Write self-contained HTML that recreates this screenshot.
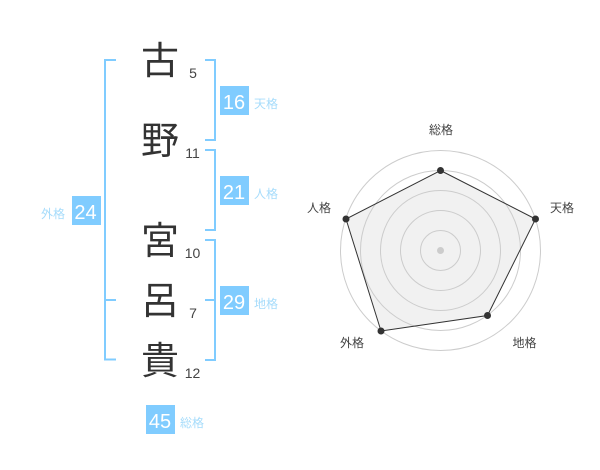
<!DOCTYPE html>
<html lang="ja">
<head>
<meta charset="utf-8">
<style>
html,body{margin:0;padding:0;background:#fff;width:600px;height:470px;overflow:hidden}
svg{display:block}
text{font-family:"Liberation Sans","Noto Sans CJK JP",sans-serif}
.k{font-size:38px;fill:#333;text-anchor:middle}
.s{font-size:14px;fill:#444;text-anchor:middle}
.n{font-size:20px;fill:#fff;text-anchor:middle}
.l{font-size:12px;fill:#a6dcfb;text-anchor:middle}
.r{font-size:12px;fill:#444;text-anchor:middle}
.b{fill:none;stroke:#80ccff;stroke-width:2}
.c{fill:none;stroke:#ccc;stroke-width:1}
</style>
</head>
<body>
<svg width="600" height="470" viewBox="0 0 600 470" xmlns="http://www.w3.org/2000/svg">
<path class="b" d="M116 60H105V359.5H116M105 300H116"/>
<path class="b" d="M205 60H215V140H205"/>
<path class="b" d="M205 150H215V230H205"/>
<path class="b" d="M205 240H215V360H205M205 300H215"/>

<text class="k" x="160" y="74">古</text>
<text class="k" x="160" y="154">野</text>
<text class="k" x="160" y="254">宮</text>
<text class="k" x="160" y="314">呂</text>
<text class="k" x="160" y="374">貴</text>

<text class="s" x="193" y="78">5</text>
<text class="s" x="192.5" y="158">11</text>
<text class="s" x="192.5" y="258">10</text>
<text class="s" x="193" y="318">7</text>
<text class="s" x="192.5" y="378">12</text>

<rect x="220" y="86" width="29" height="29" fill="#80ccff"/>
<rect x="220" y="176" width="29" height="29" fill="#80ccff"/>
<rect x="72" y="196" width="29" height="29" fill="#80ccff"/>
<rect x="220" y="286" width="29" height="29" fill="#80ccff"/>
<rect x="146" y="405" width="29" height="29" fill="#80ccff"/>

<text class="n" x="234" y="109">16</text>
<text class="n" x="234" y="199">21</text>
<text class="n" x="85.5" y="219">24</text>
<text class="n" x="234" y="309">29</text>
<text class="n" x="160" y="428">45</text>

<text class="l" x="266" y="108">天格</text>
<text class="l" x="266" y="198">人格</text>
<text class="l" x="53" y="218">外格</text>
<text class="l" x="266" y="308">地格</text>
<text class="l" x="192" y="427">総格</text>

<polygon points="440.5,170.5 535.5,219 487.5,315.5 381,331 346,219" fill="#f1f1f1" stroke="none"/>
<circle class="c" cx="440.5" cy="250.5" r="20"/>
<circle class="c" cx="440.5" cy="250.5" r="40"/>
<circle class="c" cx="440.5" cy="250.5" r="60"/>
<circle class="c" cx="440.5" cy="250.5" r="80"/>
<circle class="c" cx="440.5" cy="250.5" r="100"/>
<circle cx="440.5" cy="250.5" r="3.5" fill="#ccc"/>
<polygon points="440.5,170.5 535.5,219 487.5,315.5 381,331 346,219" fill="none" stroke="#333" stroke-width="1"/>
<g fill="#333">
<circle cx="440.5" cy="170.5" r="3.5"/>
<circle cx="535.5" cy="219" r="3.5"/>
<circle cx="487.5" cy="315.5" r="3.5"/>
<circle cx="381" cy="331" r="3.5"/>
<circle cx="346" cy="219" r="3.5"/>
</g>

<text class="r" x="441" y="134">総格</text>
<text class="r" x="562" y="212">天格</text>
<text class="r" x="319" y="212">人格</text>
<text class="r" x="524.5" y="347">地格</text>
<text class="r" x="352" y="347">外格</text>
</svg>
</body>
</html>
